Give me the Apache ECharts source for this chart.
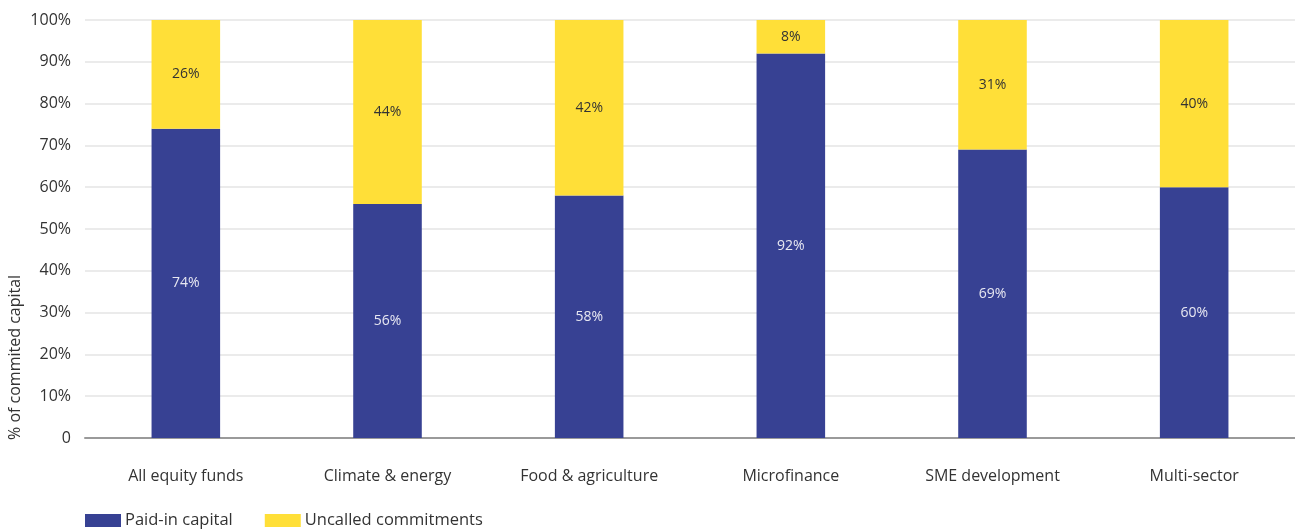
<!DOCTYPE html>
<html>
<head>
<meta charset="utf-8">
<script src="https://cdn.jsdelivr.net/npm/echarts@6/dist/echarts.min.js"></script>
<style>
  html, body { margin: 0; padding: 0; background: #fff; }
  #chart { width: 1295px; height: 530px; }
</style>
</head>
<body>
<div id="chart"></div>
<script>
// Fund categories along the x axis
const categories = ['All equity funds', 'Climate & energy', 'Food & agriculture', 'Microfinance', 'SME development', 'Multi-sector'];
// Share of committed capital, in percent
const paidIn = [74, 56, 58, 92, 69, 60];
const uncalled = [26, 44, 42, 8, 31, 40];
// Y axis tick labels (0..100 by 10)
const yTickLabels = ['0', '10%', '20%', '30%', '40%', '50%', '60%', '70%', '80%', '90%', '100%'];

const FONT = '"Open Sans", Lato, sans-serif';
const chart = echarts.init(document.getElementById('chart'));

chart.setOption({
  animation: false,
  textStyle: { fontFamily: FONT },
  grid: { left: 85, right: 0, top: 20, bottom: 92 },
  graphic: [{
    // vertical y-axis title, anchored near the bottom of the axis
    type: 'text',
    x: 15,
    y: 440,
    rotation: Math.PI / 2,
    style: {
      text: '% of commited capital',
      font: '16px ' + FONT,
      fill: '#333',
      align: 'left',
      verticalAlign: 'middle'
    }
  }],
  legend: {
    left: 85,
    top: 512,
    padding: 0,
    itemWidth: 36,
    itemHeight: 13,
    itemGap: 32,
    icon: 'rect',
    textStyle: { fontFamily: FONT, fontSize: 16.5, color: '#333', padding: [0, 0, 0, -1] },
    data: ['Paid-in capital', 'Uncalled commitments']
  },
  xAxis: {
    type: 'category',
    data: categories,
    axisLine: { lineStyle: { color: '#9a9a9a', width: 2 } },
    axisTick: { show: false },
    axisLabel: { margin: 30, fontSize: 16, color: '#333', fontFamily: FONT }
  },
  yAxis: {
    type: 'value',
    min: 0,
    max: 100,
    interval: 10,
    splitLine: { lineStyle: { color: '#e4e4e4', width: 1.5 } },
    axisLine: { show: false },
    axisTick: { show: false },
    axisLabel: {
      margin: 14,
      fontSize: 16,
      color: '#333',
      fontFamily: FONT,
      formatter: v => yTickLabels[Math.round(v / 10)]
    }
  },
  series: [
    {
      name: 'Paid-in capital',
      type: 'bar',
      stack: 'total',
      barWidth: '34%',
      itemStyle: { color: '#374193' },
      label: {
        show: true,
        position: 'inside',
        color: '#e8e8f2',
        fontSize: 14,
        fontFamily: FONT,
        formatter: p => p.value + '%'
      },
      data: paidIn
    },
    {
      name: 'Uncalled commitments',
      type: 'bar',
      stack: 'total',
      barWidth: '34%',
      itemStyle: { color: '#ffdf38' },
      label: {
        show: true,
        position: 'inside',
        color: '#333',
        fontSize: 14,
        fontFamily: FONT,
        formatter: p => p.value + '%'
      },
      data: uncalled
    }
  ]
});
</script>
</body>
</html>
